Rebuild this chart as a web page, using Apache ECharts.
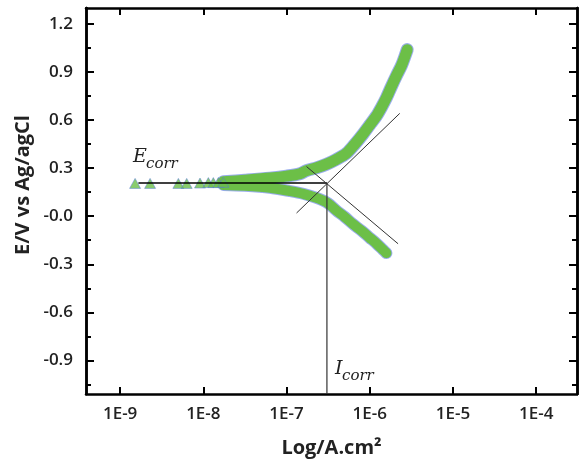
<!doctype html>
<html>
<head>
<meta charset="utf-8">
<title>Tafel</title>
<script src="https://cdn.jsdelivr.net/npm/echarts@6/dist/echarts.min.js"></script>
<style>
html,body{margin:0;padding:0;background:#fff;}
#chart{width:582px;height:463px;}
</style>
</head>
<body>
<div id="chart"></div>
<script type="text/javascript">
// log10(i) tick positions
var xTicks = [-9, -8, -7, -6, -5, -4];
var yMajor = [-0.9, -0.6, -0.3, 0, 0.3, 0.6, 0.9, 1.2];
var yMinor = [-1.05, -0.75, -0.45, -0.15, 0.15, 0.45, 0.75, 1.05];

// anodic branch [log i, E]
var anodic = [
	[-7.76, 0.215], [-7.5, 0.225], [-7.2, 0.238], [-7.0, 0.25], [-6.84, 0.265],
	[-6.76, 0.285], [-6.64, 0.302], [-6.52, 0.325], [-6.4, 0.355], [-6.28, 0.393],
	[-6.18, 0.45], [-6.08, 0.514], [-6.0, 0.57], [-5.92, 0.626], [-5.86, 0.68],
	[-5.80, 0.74], [-5.74, 0.81], [-5.68, 0.877], [-5.62, 0.94], [-5.58, 0.995],
	[-5.55, 1.04]
];
// cathodic branch
var cathodic = [
	[-7.76, 0.195], [-7.5, 0.19], [-7.2, 0.178], [-6.96, 0.157], [-6.8, 0.14],
	[-6.64, 0.114], [-6.5, 0.08], [-6.4, 0.035], [-6.3, -0.005], [-6.2, -0.05],
	[-6.1, -0.09], [-6.0, -0.135], [-5.92, -0.17], [-5.84, -0.21], [-5.8, -0.23]
];
// separate triangles near open circuit
var tail = [
	[-8.82, 0.205], [-8.64, 0.205], [-8.3, 0.205], [-8.2, 0.205], [-8.04, 0.207],
	[-7.94, 0.21], [-7.88, 0.21], [-7.82, 0.21], [-7.76, 0.212]
];
// construction lines
var ecorrLine = [[-8.78, 0.207], [-6.515, 0.207]];
var icorrLine = [[-6.515, 0.207], [-6.515, -1.11]];
var anodicTafel = [[-6.88, 0.02], [-5.64, 0.642]];
var cathodicTafel = [[-6.76, 0.31], [-5.66, -0.172]];

var green = '#6cbf47';

function xAx(pos, show){
	return {
		type: 'value', position: pos, min: -9.41, max: -3.51,
		axisLine: {show: true, onZero: false, lineStyle: {color: '#000', width: 2.5}},
		axisTick: {show: true, inside: true, length: 7, customValues: xTicks, lineStyle: {color: '#000', width: 2}},
		axisLabel: {show: show, customValues: xTicks, margin: 12,
			fontFamily: 'Open Sans', fontWeight: 600, fontSize: 17, color: '#222',
			formatter: function(v){ return '1E' + v; }},
		splitLine: {show: false},
		name: show ? 'Log/A.cm\u00b2' : '', nameLocation: 'middle', nameGap: 44,
		nameTextStyle: {fontFamily: 'Open Sans', fontWeight: 'bold', fontSize: 20, color: '#222'}
	};
}
function yAx(pos, ticks, len, show){
	return {
		type: 'value', position: pos, min: -1.11, max: 1.30,
		axisLine: {show: true, onZero: false, lineStyle: {color: '#000', width: 2.5}},
		axisTick: {show: true, inside: true, length: len, customValues: ticks, lineStyle: {color: '#000', width: 2}},
		axisLabel: {show: show, customValues: yMajor, margin: 13,
			fontFamily: 'Open Sans', fontWeight: 600, fontSize: 17, color: '#222',
			formatter: function(v){ return (v <= 0 ? '-' + Math.abs(v).toFixed(1) : v.toFixed(1)); }},
		splitLine: {show: false}
	};
}

var chart = echarts.init(document.getElementById('chart'));
var option = {
	animation: false,
	backgroundColor: '#fff',
	grid: {left: 86, right: 5, top: 8, bottom: 67},
	xAxis: [xAx('bottom', true), xAx('top', false)],
	yAxis: [yAx('left', yMajor, 8, true), yAx('left', yMinor, 5, false),
		yAx('right', yMajor, 8, false), yAx('right', yMinor, 5, false)],
	series: [
		{type: 'line', data: anodic, symbol: 'none', z: 2, smooth: 0.3,
			lineStyle: {color: '#5577dd', width: 13, cap: 'round', join: 'round', opacity: 0.6}},
		{type: 'line', data: cathodic, symbol: 'none', z: 2, smooth: 0.3,
			lineStyle: {color: '#5577dd', width: 12, cap: 'round', join: 'round', opacity: 0.6}},
		{type: 'line', data: anodic, symbol: 'none', z: 3, smooth: 0.3,
			lineStyle: {color: green, width: 11, cap: 'round', join: 'round'}},
		{type: 'line', data: cathodic, symbol: 'none', z: 3, smooth: 0.3,
			lineStyle: {color: green, width: 10, cap: 'round', join: 'round'}},
		{type: 'scatter', data: tail, symbol: 'triangle', symbolSize: [11, 10], z: 3,
			itemStyle: {color: green, borderColor: '#5577dd', borderWidth: 0.6}},
		{type: 'line', data: ecorrLine, symbol: 'none', z: 5, lineStyle: {color: '#000', width: 1.5}},
		{type: 'line', data: icorrLine, symbol: 'none', z: 5, lineStyle: {color: '#333', width: 1.2}},
		{type: 'line', data: anodicTafel, symbol: 'none', z: 5, lineStyle: {color: '#333', width: 1}},
		{type: 'line', data: cathodicTafel, symbol: 'none', z: 5, lineStyle: {color: '#333', width: 1}}
	],
	graphic: [
		{type: 'text', x: 23, y: 185, rotation: Math.PI / 2, z: 10,
			style: {text: 'E/V vs Ag/agCl', fontFamily: 'Open Sans', fontWeight: 'bold', fontSize: 20, fill: '#222', align: 'center', verticalAlign: 'middle'}},
		{type: 'text', left: 133, top: 148, z: 10, style: {text: 'E', fontFamily: 'DejaVu Serif', fontStyle: 'italic', fontSize: 19, fill: '#222'}},
		{type: 'text', left: 146, top: 157, z: 10, style: {text: 'corr', fontFamily: 'DejaVu Serif', fontStyle: 'italic', fontSize: 15, fill: '#222'}},
		{type: 'text', left: 335, top: 360, z: 10, style: {text: 'I', fontFamily: 'DejaVu Serif', fontStyle: 'italic', fontSize: 19, fill: '#222'}},
		{type: 'text', left: 342, top: 369, z: 10, style: {text: 'corr', fontFamily: 'DejaVu Serif', fontStyle: 'italic', fontSize: 15, fill: '#222'}}
	]
};
chart.setOption(option);
</script>
</body>
</html>
